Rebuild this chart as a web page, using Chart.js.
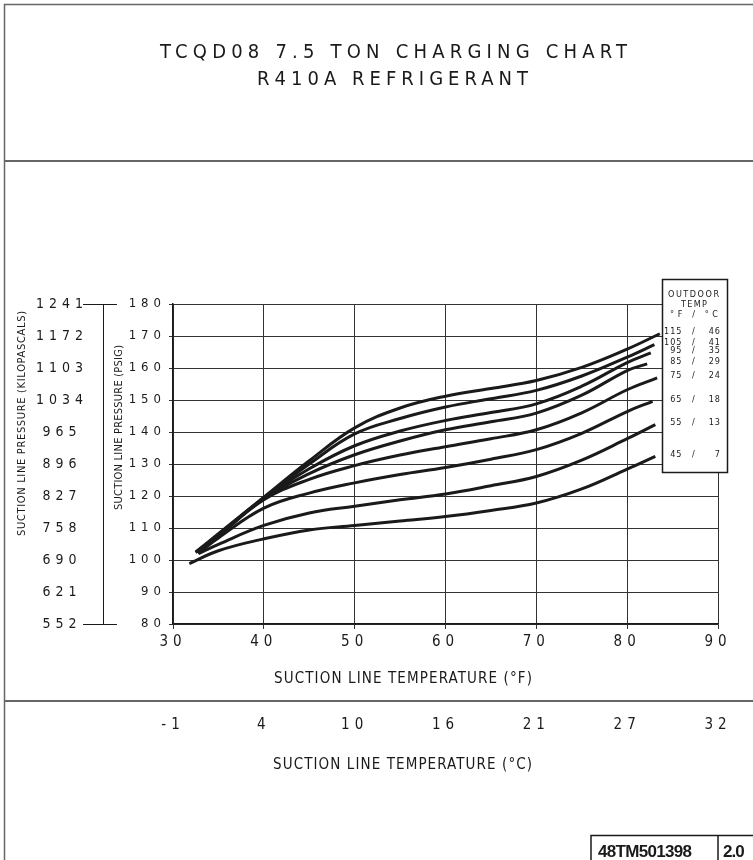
<!DOCTYPE html>
<html>
<head>
<meta charset="utf-8">
<title>TCQD08 7.5 TON CHARGING CHART</title>
<script src="https://cdn.jsdelivr.net/npm/chart.js@4.4.1/dist/chart.umd.min.js"></script>
<style>
  html, body { margin: 0; padding: 0; background: #fff; }
  canvas { display: block; }
</style>
</head>
<body>
<canvas id="chart" width="753" height="860"></canvas>
<script>
// outdoor temperature of each curve
var outdoorF = [115, 105, 95, 85, 75, 65, 55, 45];
var outdoorC = [46, 41, 35, 29, 24, 18, 13, 7];

// suction line temp (F): first point, common readings, last point
var startF = [32.5, 32.5, 32.7, 32.8, 32.8, 32.8, 32.8, 31.8];
var readF = [35, 40, 45, 50, 55, 60, 65, 70, 75, 80];
var endF = [83.6, 83.0, 82.6, 82.2, 83.3, 82.8, 83.1, 83.1];

// suction line pressure (psig) along each curve
var psig115 = [102.5, 108.2, 119.6, 131.0, 141.3, 147.5, 151.2, 153.6, 156.1, 160.2, 165.9, 170.7];
var psig105 = [102.3, 108.0, 119.4, 130.0, 139.4, 144.2, 147.8, 150.4, 153.0, 157.5, 163.4, 167.3];
var psig95 = [102.3, 107.8, 119.3, 128.5, 135.7, 140.3, 143.6, 146.1, 148.8, 154.3, 161.7, 164.7];
var psig85 = [102.3, 107.6, 119.2, 127.0, 132.9, 137.2, 140.7, 143.2, 145.9, 151.5, 159.2, 161.3];
var psig75 = [102.2, 107.4, 118.8, 125.2, 129.5, 132.8, 135.4, 137.9, 140.7, 146.0, 153.2, 156.9];
var psig65 = [102.2, 106.9, 116.2, 120.9, 124.1, 126.7, 128.9, 131.5, 134.5, 139.6, 146.4, 149.6];
var psig55 = [102.0, 104.9, 110.8, 114.7, 116.8, 118.8, 120.6, 123.2, 126.1, 131.2, 137.9, 142.3];
var psig45 = [98.9, 102.9, 106.6, 109.4, 110.8, 112.2, 113.6, 115.5, 117.8, 122.2, 128.4, 132.4];
var curves = [psig115, psig105, psig95, psig85, psig75, psig65, psig55, psig45];

// second axis labels
var kpaLabels = ['552', '621', '690', '758', '827', '896', '965', '1034', '1103', '1172', '1241'];
var celsiusLabels = ['-1', '4', '10', '16', '21', '27', '32'];

var titleLine1 = 'TCQD08 7.5 TON CHARGING CHART';
var titleLine2 = 'R410A REFRIGERANT';
var xTitleF = 'SUCTION LINE TEMPERATURE (°F)';
var xTitleC = 'SUCTION LINE TEMPERATURE (°C)';
var yTitlePsig = 'SUCTION LINE PRESSURE (PSIG)';
var yTitleKpa = 'SUCTION LINE PRESSURE (KILOPASCALS)';
var docNumber = '48TM501398';
var docRev = '2.0';

var FONT = '"Liberation Sans Narrow", "DejaVu Sans Condensed", "Arial Narrow", sans-serif';
var INK = '#1a1a1a';

function pointsFor(i) {
  var xs = [startF[i]].concat(readF, [endF[i]]);
  return xs.map(function (x, j) { return { x: x, y: curves[i][j] }; });
}

var datasets = outdoorF.map(function (f, i) {
  return {
    label: f + ' / ' + outdoorC[i],
    data: pointsFor(i),
    borderColor: INK,
    borderWidth: 3,
    pointRadius: 0,
    fill: false,
    tension: 0.4,
    xAxisID: 'x',
    yAxisID: 'y'
  };
});

// text stretched to a given width, like the lettering on the drawing
function spaced(ctx, text, x0, base, width) {
  ctx.letterSpacing = '0px';
  var w = ctx.measureText(text).width;
  var sp = text.length > 1 ? (width - w) / (text.length - 1) : 0;
  ctx.letterSpacing = sp + 'px';
  ctx.textAlign = 'left';
  ctx.textBaseline = 'alphabetic';
  ctx.fillText(text, x0, base);
  ctx.letterSpacing = '0px';
}

var drawing = {
  id: 'drawing',
  beforeLayout: function (chart) {
    chart.ctx.letterSpacing = '5px';
  },
  beforeDraw: function (chart) {
    var ctx = chart.ctx;
    ctx.save();
    ctx.fillStyle = '#fff';
    ctx.fillRect(0, 0, chart.width, chart.height);
    ctx.strokeStyle = '#666';
    ctx.lineWidth = 1.5;
    ctx.beginPath();
    ctx.moveTo(4.5, 860); ctx.lineTo(4.5, 4.5); ctx.lineTo(753, 4.5);
    ctx.stroke();
    ctx.lineWidth = 2;
    ctx.beginPath();
    ctx.moveTo(4, 161); ctx.lineTo(753, 161);
    ctx.moveTo(4, 701); ctx.lineTo(753, 701);
    ctx.stroke();
    ctx.restore();
    ctx.letterSpacing = '5px';
  },
  afterDraw: function (chart) {
    var ctx = chart.ctx;
    var y = chart.scales.y;
    var yk = chart.scales.yK;
    ctx.save();
    ctx.fillStyle = INK;
    ctx.strokeStyle = INK;

    // kPa bracket ends reach across to the psig labels
    ctx.lineWidth = 1;
    ctx.beginPath();
    [yk.min, yk.max].forEach(function (v) {
      var py = Math.round(yk.getPixelForValue(v)) + 0.5;
      ctx.moveTo(yk.right, py); ctx.lineTo(yk.right + 14, py);
    });
    ctx.stroke();

    // titles
    ctx.font = '20px ' + FONT;
    spaced(ctx, titleLine1, 160, 58, 467);
    spaced(ctx, titleLine2, 257, 85, 271);

    ctx.font = '15px ' + FONT;
    spaced(ctx, xTitleF, 274, 683, 258);
    spaced(ctx, xTitleC, 273, 769, 259);

    ctx.font = '11px ' + FONT;
    ctx.save();
    ctx.translate(25, 424);
    ctx.rotate(-Math.PI / 2);
    spaced(ctx, yTitleKpa, -112, 0, 225);
    ctx.restore();
    ctx.save();
    ctx.translate(121.5, 427.5);
    ctx.rotate(-Math.PI / 2);
    spaced(ctx, yTitlePsig, -82.5, 0, 165);
    ctx.restore();

    // legend box
    ctx.fillStyle = '#fff';
    ctx.fillRect(662.5, 279.5, 65, 193);
    ctx.lineWidth = 1.5;
    ctx.strokeRect(662.5, 279.5, 65, 193);
    ctx.fillStyle = INK;
    ctx.font = '9px ' + FONT;
    spaced(ctx, 'OUTDOOR', 668, 297, 51);
    spaced(ctx, 'TEMP', 681, 307, 26);
    spaced(ctx, '°F / °C', 670, 317, 48);
    ctx.letterSpacing = '1px';
    ctx.textBaseline = 'alphabetic';
    outdoorF.forEach(function (f, i) {
      var c = curves[i];
      var base = y.getPixelForValue(c[c.length - 1]) + 0.5;
      ctx.textAlign = 'right';
      ctx.fillText(String(f), 682.5, base);
      ctx.fillText(String(outdoorC[i]), 721, base);
      ctx.textAlign = 'left';
      ctx.fillText('/', 692, base);
    });

    // drawing number block
    ctx.letterSpacing = '0px';
    ctx.lineWidth = 1.5;
    ctx.beginPath();
    ctx.moveTo(591, 862); ctx.lineTo(591, 835.5); ctx.lineTo(755, 835.5);
    ctx.moveTo(718, 835.5); ctx.lineTo(718, 862);
    ctx.stroke();
    ctx.font = 'bold 17px "Liberation Sans", Arial, sans-serif';
    spaced(ctx, docNumber, 598, 857, 94);
    ctx.letterSpacing = '-1px';
    ctx.textAlign = 'left';
    ctx.fillText(docRev, 723, 857);
    ctx.restore();
  }
};

new Chart(document.getElementById('chart'), {
  type: 'line',
  data: { datasets: datasets },
  plugins: [drawing],
  options: {
    responsive: false,
    animation: false,
    events: [],
    layout: { padding: { left: 0, top: 304, right: 35, bottom: 0 } },
    plugins: { legend: { display: false }, tooltip: { enabled: false }, title: { display: false } },
    scales: {
      x: {
        type: 'linear', position: 'bottom', weight: 0, min: 30, max: 90,
        ticks: { stepSize: 10, color: INK, padding: 4, maxRotation: 0, font: { family: FONT, size: 15 } },
        grid: { color: '#333', lineWidth: 1, tickLength: 5 },
        border: { color: INK, width: 1.5 },
        afterFit: function (s) { s.height = 77; }
      },
      xC: {
        type: 'linear', position: 'bottom', weight: 1, min: 30, max: 90,
        ticks: {
          stepSize: 10, color: INK, padding: 15, maxRotation: 0, font: { family: FONT, size: 15 },
          callback: function (v, i) { return celsiusLabels[i]; }
        },
        grid: { display: false, drawTicks: false },
        border: { display: false },
        afterFit: function (s) { s.height = 159; }
      },
      y: {
        type: 'linear', position: 'left', weight: 0, min: 80, max: 180,
        ticks: { stepSize: 10, color: INK, padding: 3, font: { family: FONT, size: 13 } },
        grid: { color: '#333', lineWidth: 1, tickLength: 4 },
        border: { color: INK, width: 1.5 },
        afterFit: function (s) { s.width = 70; }
      },
      yK: {
        type: 'linear', position: 'left', weight: 1, min: 80, max: 180,
        ticks: {
          stepSize: 10, color: INK, padding: -5, crossAlign: 'center', font: { family: FONT, size: 14 },
          callback: function (v, i) { return kpaLabels[i]; }
        },
        grid: {
          drawOnChartArea: false, tickLength: 20, lineWidth: 1,
          color: function (c) { return (c.index === 0 || c.index === kpaLabels.length - 1) ? INK : 'rgba(0,0,0,0)'; }
        },
        border: { color: INK, width: 1 },
        afterFit: function (s) { s.width = 103; }
      }
    }
  }
});
</script>
</body>
</html>
